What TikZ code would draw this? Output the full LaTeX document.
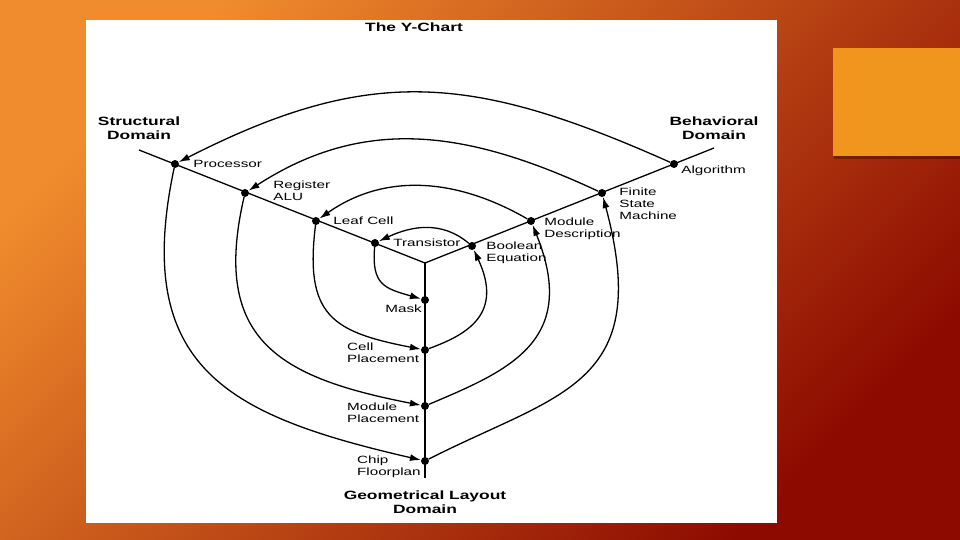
\documentclass[tikz,border=0pt]{standalone}
\usepackage{fontspec}
\newfontfamily\ychartfont{Liberation Sans}[FakeStretch=1.45]
\usetikzlibrary{arrows.meta, positioning, shadows}

\definecolor{slideorange}{RGB}{240,140,45}
\definecolor{slidered}{RGB}{140,10,0}
\definecolor{taborange}{RGB}{240,150,30}

\begin{document}
\begin{tikzpicture}[
    x=1pt, y=1pt,
    every node/.style={
        font=\ychartfont\fontsize{10.5}{12}\selectfont,
        inner sep=0pt,
        align=left
    },
    junction/.style={circle, fill=black, minimum size=8pt},
    domaintitle/.style={font=\ychartfont\bfseries\fontsize{12}{14}\selectfont, align=center},
    spiral/.style={-{Latex[length=11pt,width=7pt]}, line width=1.3pt},
    domainline/.style={line width=1.3pt},
    node distance=6pt
]

% ------------------------
% Slide background
% ------------------------
\useasboundingbox (0,0) rectangle (960,540);
\shade[top color=slideorange, bottom color=slidered, shading angle=45] (0,0) rectangle (960,540);
\fill[taborange, drop shadow={shadow xshift=1pt, shadow yshift=-3pt, opacity=0.3, fill=black}] (833,384) rectangle (960,492);
\fill[white] (86,17) rectangle (777,520);

\node[domaintitle] (chart) at (414,513) {The Y-Chart};

% ------------------------
% The three axes
% ------------------------
\coordinate (O) at (425,277);
\coordinate (sEnd) at (139,390);
\coordinate (bEnd) at (714,392);
\coordinate (gEnd) at (425,62);

\draw[domainline] (sEnd) -- (O) -- (bEnd);
\draw[line width=2.2pt] (O) -- (gEnd);

\node[domaintitle, above=10pt of sEnd] (struct) {Structural\\Domain};
\node[domaintitle, above=8pt of bEnd] (behav) {Behavioral\\Domain};
\node[domaintitle, below=13pt of gEnd] (geom) {Geometrical Layout\\Domain};

% ------------------------
% Structural levels
% ------------------------
\node[junction] (proc) at (175,376) {};
\node[junction] (reg) at (245,347) {};
\node[junction] (leaf) at (316,319) {};
\node[junction] (trans) at (375,297) {};

\node[right=14pt of proc] (procL) {Processor};
\node[right=24pt of reg, yshift=2pt] (regL) {Register\\ALU};
\node[right=13pt of leaf] (leafL) {Leaf Cell};
\node[right=14pt of trans] (transL) {Transistor};

% ------------------------
% Behavioral levels
% ------------------------
\node[junction] (bool) at (472,294) {};
\node[junction] (moddesc) at (531,319) {};
\node[junction] (fsm) at (602,347) {};
\node[junction] (alg) at (674,376) {};

\node[right=10pt of bool, yshift=-7pt] (boolL) {Boolean\\Equation};
\node[right=9pt of moddesc, yshift=-8pt] (moddescL) {Module\\Description};
\node[right=13pt of fsm, yshift=-11pt] (fsmL) {Finite\\State\\Machine};
\node[right=3pt of alg, yshift=-7pt] (algL) {Algorithm};

% ------------------------
% Geometrical levels
% ------------------------
\node[junction] (mask) at (425,240) {};
\node[junction] (cellp) at (425,190) {};
\node[junction] (modp) at (425,134) {};
\node[junction] (chip) at (425,79) {};

\node[below left=2pt and 0pt of mask] (maskL) {Mask};
\node[left=1.5pt of cellp, yshift=-3pt] (cellpL) {Cell\\Placement};
\node[left=1.5pt of modp, yshift=-7pt] (modpL) {Module\\Placement};
\node[left=0pt of chip, yshift=-6pt] (chipL) {Chip\\Floorplan};

% ------------------------
% Design spiral, outside in
% ------------------------
\draw[spiral] (alg) .. controls +(156:220) and +(27:220) .. (proc);
\draw[spiral] (proc) .. controls +(258:210) and +(167:200) .. (chip);
\draw[spiral] (chip) .. controls +(27:150) and +(-75:200) .. (fsm);

\draw[spiral] (fsm) .. controls +(155:145) and +(33:145) .. (reg);
\draw[spiral] (reg) .. controls +(257:150) and +(169:150) .. (modp);
\draw[spiral] (modp) .. controls +(23:90) and +(-68:130) .. (moddesc);

\draw[spiral] (moddesc) .. controls +(150:85) and +(35:85) .. (leaf);
\draw[spiral] (leaf) .. controls +(263:95) and +(169:95) .. (cellp);
\draw[spiral] (cellp) .. controls +(20:45) and +(-65:75) .. (bool);

\draw[spiral] (bool) .. controls +(140:40) and +(25:40) .. (trans);
\draw[spiral] (trans) .. controls +(265:42) and +(164:42) .. (mask);

\end{tikzpicture}
\end{document}
